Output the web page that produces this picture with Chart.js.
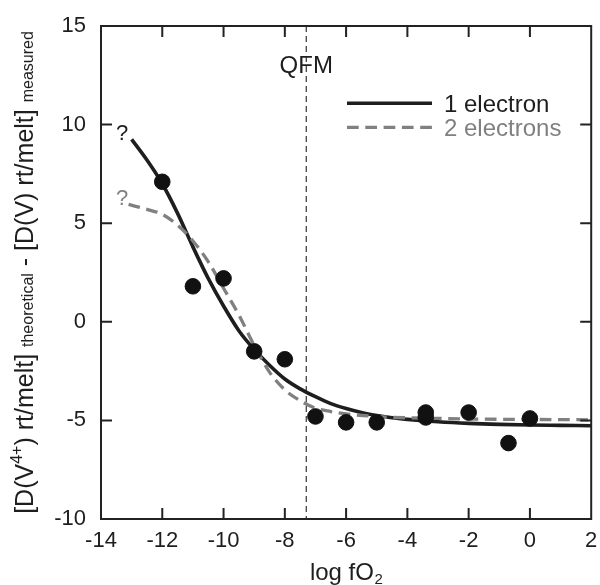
<!DOCTYPE html>
<html>
<head>
<meta charset="utf-8">
<script src="https://cdn.jsdelivr.net/npm/chart.js@4/dist/chart.umd.min.js"></script>
<style>
  html, body { margin: 0; padding: 0; background: #ffffff; }
  #wrap { width: 600px; height: 585px; position: relative; }
</style>
</head>
<body>
<div id="wrap"><canvas id="c" width="600" height="585"></canvas></div>
<script>
// ---- data ----
const pointX = [-12, -11, -10, -9, -8, -7, -6, -5, -3.4, -3.4, -2, -0.7, 0];
const pointY = [7.1, 1.8, 2.2, -1.5, -1.9, -4.8, -5.1, -5.1, -4.6, -4.85, -4.6, -6.15, -4.9];

const oneElectronX = [-13, -12.5, -12, -11.5, -11, -10.5, -10, -9.5, -9, -8.5, -8, -7.5, -7, -6.5, -6, -5.5, -5, -4.5, -4, -3, -2, -1, 0, 1, 2];
const oneElectronY = [9.25, 8.2, 7.0, 5.5, 3.8, 2.2, 0.8, -0.45, -1.4, -2.2, -2.9, -3.4, -3.8, -4.15, -4.4, -4.6, -4.75, -4.87, -4.95, -5.07, -5.15, -5.2, -5.23, -5.25, -5.27];

const twoElectronX = [-13.1, -12.5, -12, -11.5, -11, -10.5, -10, -9.5, -9, -8.5, -8, -7.5, -7, -6.5, -6, -5, -4, -3, -2, 0, 2];
const twoElectronY = [5.95, 5.7, 5.45, 4.9, 4.1, 3.05, 1.7, 0.35, -1.2, -2.55, -3.45, -4.0, -4.38, -4.55, -4.67, -4.8, -4.87, -4.9, -4.93, -4.95, -4.97];

const xTicks = [-14, -12, -10, -8, -6, -4, -2, 0, 2];
const yTicks = [-10, -5, 0, 5, 10, 15];
const qfmX = -7.3;
const seriesNames = ['1 electron', '2 electrons'];

const FONT = '"Liberation Sans", Arial, Helvetica, sans-serif';
const INK = '#1e1e1e';
const GRAY = '#808080';

function toXY(xs, ys) { return xs.map((x, i) => ({ x: x, y: ys[i] })); }

const decor = {
  id: 'decor',
  beforeDatasetsDraw(chart) {
    const ctx = chart.ctx, xs = chart.scales.x, ca = chart.chartArea;
    const px = xs.getPixelForValue(qfmX);
    ctx.save();
    ctx.strokeStyle = '#333';
    ctx.lineWidth = 1.2;
    ctx.setLineDash([6, 4]);
    ctx.beginPath();
    ctx.moveTo(px, ca.top);
    ctx.lineTo(px, ca.bottom);
    ctx.stroke();
    ctx.restore();
  },
  afterDraw(chart) {
    const ctx = chart.ctx, xs = chart.scales.x, ys = chart.scales.y, ca = chart.chartArea;
    ctx.save();
    // frame
    ctx.strokeStyle = '#222';
    ctx.lineWidth = 2;
    ctx.setLineDash([]);
    ctx.strokeRect(ca.left, ca.top, ca.right - ca.left, ca.bottom - ca.top);
    // inward ticks on all sides
    const tl = 11;
    ctx.beginPath();
    xTicks.forEach(v => {
      if (v === xTicks[0] || v === xTicks[xTicks.length - 1]) return;
      const p = xs.getPixelForValue(v);
      ctx.moveTo(p, ca.bottom); ctx.lineTo(p, ca.bottom - tl);
      ctx.moveTo(p, ca.top); ctx.lineTo(p, ca.top + tl);
    });
    yTicks.forEach(v => {
      if (v === yTicks[0] || v === yTicks[yTicks.length - 1]) return;
      const p = ys.getPixelForValue(v);
      ctx.moveTo(ca.left, p); ctx.lineTo(ca.left + tl, p);
      ctx.moveTo(ca.right, p); ctx.lineTo(ca.right - tl, p);
    });
    ctx.stroke();

    // QFM label
    const qx = xs.getPixelForValue(qfmX);
    ctx.fillStyle = INK;
    ctx.font = '24px ' + FONT;
    ctx.textAlign = 'center';
    ctx.textBaseline = 'alphabetic';
    ctx.fillText('QFM', qx, 73);

    // question marks at the curve starts
    ctx.font = '22px ' + FONT;
    ctx.textBaseline = 'middle';
    ctx.fillStyle = INK;
    ctx.fillText('?', xs.getPixelForValue(-13.31), ys.getPixelForValue(9.55));
    ctx.fillStyle = GRAY;
    ctx.fillText('?', xs.getPixelForValue(-13.31), ys.getPixelForValue(6.25));

    // legend
    ctx.lineWidth = 3.5;
    ctx.strokeStyle = INK;
    ctx.setLineDash([]);
    ctx.beginPath(); ctx.moveTo(347, 103.3); ctx.lineTo(432, 103.3); ctx.stroke();
    ctx.strokeStyle = GRAY;
    ctx.lineWidth = 3.3;
    ctx.setLineDash([11.7, 6.6]);
    ctx.beginPath(); ctx.moveTo(347, 127.3); ctx.lineTo(432, 127.3); ctx.stroke();
    ctx.setLineDash([]);
    ctx.font = '24px ' + FONT;
    ctx.textAlign = 'left';
    ctx.textBaseline = 'alphabetic';
    ctx.fillStyle = INK;
    ctx.fillText(seriesNames[0], 444, 112);
    ctx.fillStyle = GRAY;
    ctx.fillText(seriesNames[1], 444, 135.5);

    // x axis title: log fO2
    ctx.fillStyle = INK;
    const big = '24px ' + FONT, small = '15px ' + FONT;
    ctx.font = big;
    const w1 = ctx.measureText('log fO').width;
    ctx.font = small;
    const w2 = ctx.measureText('2').width;
    const cx = (ca.left + ca.right) / 2;
    let sx = cx - (w1 + w2) / 2;
    ctx.font = big;
    ctx.fillText('log fO', sx, 580);
    ctx.font = small;
    ctx.fillText('2', sx + w1 + 0.5, 584);

    // y axis title (rotated)
    const parts = [
      { t: '[D(V', f: '25px ' + FONT, dy: 0 },
      { t: '4+', f: '16px ' + FONT, dy: -11 },
      { t: ') rt/melt] ', f: '25px ' + FONT, dy: 0 },
      { t: 'theoretical', f: '16px ' + FONT, dy: 0 },
      { t: ' - [D(V) rt/melt] ', f: '25px ' + FONT, dy: 0 },
      { t: 'measured', f: '16px ' + FONT, dy: 0 }
    ];
    let total = 0;
    parts.forEach(p => { ctx.font = p.f; p.w = ctx.measureText(p.t).width; total += p.w; });
    const cy = (ca.top + ca.bottom) / 2;
    ctx.save();
    ctx.translate(32.5, cy);
    ctx.rotate(-Math.PI / 2);
    let tx = -total / 2;
    parts.forEach(p => {
      ctx.font = p.f;
      ctx.fillText(p.t, tx, p.dy);
      tx += p.w;
    });
    ctx.restore();
    ctx.restore();
  }
};

new Chart(document.getElementById('c'), {
  type: 'scatter',
  data: {
    datasets: [
      {
        label: 'measured',
        data: toXY(pointX, pointY),
        backgroundColor: '#111',
        borderColor: '#111',
        pointRadius: 7.8,
        pointHoverRadius: 7.8,
        order: 0
      },
      {
        label: seriesNames[1],
        type: 'line',
        data: toXY(twoElectronX, twoElectronY),
        borderColor: GRAY,
        borderWidth: 3.3,
        borderDash: [11.7, 6.6],
        pointRadius: 0,
        fill: false,
        cubicInterpolationMode: 'monotone',
        order: 1
      },
      {
        label: seriesNames[0],
        type: 'line',
        data: toXY(oneElectronX, oneElectronY),
        borderColor: INK,
        borderWidth: 3.6,
        pointRadius: 0,
        fill: false,
        cubicInterpolationMode: 'monotone',
        order: 2
      }
    ]
  },
  options: {
    responsive: false,
    animation: false,
    events: [],
    layout: { padding: { left: 0, right: 0, top: 26, bottom: 0 } },
    plugins: { legend: { display: false }, tooltip: { enabled: false }, title: { display: false } },
    scales: {
      x: {
        type: 'linear',
        min: -14, max: 2,
        afterBuildTicks: s => { s.ticks = xTicks.map(v => ({ value: v })); },
        afterFit: s => { s.height = 66; s.paddingRight = 7; s.paddingLeft = 0; },
        grid: { display: false, drawTicks: false },
        border: { display: false },
        ticks: { color: INK, font: { family: FONT, size: 22 }, padding: 9, maxRotation: 0, autoSkip: false }
      },
      y: {
        type: 'linear',
        min: -10, max: 15,
        afterBuildTicks: s => { s.ticks = yTicks.map(v => ({ value: v })); },
        afterFit: s => { s.width = 101; s.paddingTop = 0; s.paddingBottom = 0; },
        grid: { display: false, drawTicks: false },
        border: { display: false },
        ticks: { color: INK, font: { family: FONT, size: 22 }, padding: 15, autoSkip: false }
      }
    }
  },
  plugins: [decor]
});
</script>
</body>
</html>
